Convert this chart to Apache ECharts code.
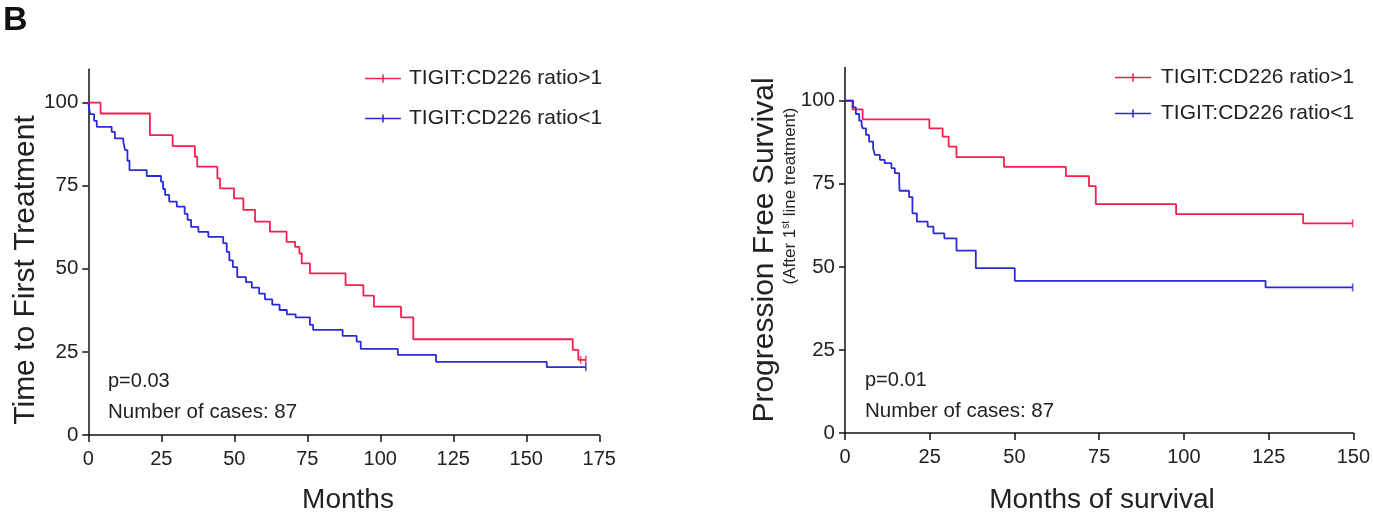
<!DOCTYPE html>
<html>
<head>
<meta charset="utf-8">
<script src="https://cdn.jsdelivr.net/npm/echarts@6/dist/echarts.min.js"></script>
<style>
html,body{margin:0;padding:0;background:#fff;}
#c{width:1373px;height:522px;}
</style>
</head>
<body>
<div id="c"></div>
<script>
// ---- data (months, % event-free) ----
const seriesNames = ['TIGIT:CD226 ratio>1', 'TIGIT:CD226 ratio<1'];

const leftHigh = [[0,100],[4.2,96.7],[21.1,90.2],[28.9,86.9],[36.5,83.7],[37.3,80.7],[44.2,77.2],[45.1,74.2],[49.9,71.2],[53.1,67.7],[57.1,64.2],[62.2,61.2],[67.9,58.1],[70.8,56.6],[72.3,54.6],[73.1,51.6],[75.9,48.6],[88.1,45.1],[94.2,41.9],[97.8,38.6],[107.1,35.4],[111.3,28.8],[165.9,25.6],[167.8,22.6],[170.4,22.6]];

const leftLow = [[0,100],[0.6,96.5],[2,94.5],[2.9,92.7],[8,91.2],[9.1,89.2],[12,88.2],[12.6,85.7],[13.4,82.5],[14.1,79.7],[20,77.9],[24.9,76.2],[25.6,74],[26.3,72.2],[27.7,70.2],[30.3,68.7],[33,66.5],[34,64.7],[35.2,62.6],[37.7,61.1],[41.1,59.6],[46.2,57.7],[47.4,55.1],[48.3,52.5],[49.5,50.5],[51,47.5],[54,46],[56,44.3],[58.5,42.5],[60.5,40.8],[63,39.2],[65.5,37.6],[68,36.3],[71,35.4],[75.9,33.1],[77,31.6],[87.1,29.8],[91.9,28.1],[93.3,25.9],[106,24.1],[119.1,22],[157,20.4],[170.4,20.4]];

const rightHigh = [[0,100],[2.2,97.4],[5.2,94.4],[24.9,91.7],[28.8,89.2],[30.6,86.2],[32.9,83],[46.9,80.1],[65.2,77.3],[72,74.3],[74,68.9],[97.7,65.9],[135.2,63.1],[149.8,63.1]];

const rightLow = [[0,100],[2.4,98],[3.2,96],[4.2,94],[4.9,92.7],[5.2,91.7],[6.2,89.7],[7.1,87.7],[8.3,85.7],[8.8,83.7],[10.3,82.2],[11.7,81.2],[13.7,79.7],[14.7,78.2],[16,75.5],[16.1,72.9],[18.9,71],[19.9,66.1],[21.2,63.6],[24.4,62.1],[26.1,60.1],[29.3,58.6],[32.9,54.9],[38.6,49.6],[50.1,45.8],[124.1,43.8],[149.8,43.8]];

// censored observations (tick marks on the curves)
const leftHighCensor = [[168.6,22.6],[170.4,22.6]];
const leftLowCensor = [[170.4,20.4]];
const rightHighCensor = [[149.8,63.1]];
const rightLowCensor = [[149.8,43.8]];

const yTicks = [0, 25, 50, 75, 100];
const leftXTicks = [0, 25, 50, 75, 100, 125, 150, 175];
const rightXTicks = [0, 25, 50, 75, 100, 125, 150];

const leftNotes = ['p=0.03', 'Number of cases: 87'];
const rightNotes = ['p=0.01', 'Number of cases: 87'];

// ---- styles ----
const RED = '#f4214e';
const BLUE = '#2b2bd8';
const AX = '#111';
const FONT = '"Liberation Sans", Arial, sans-serif';
const LEGEND_ICON = 'path://M0,6.2H36V7.8H0Z M17.2,3H18.8V11H17.2Z';

function xAxis(idx, max, ticks) {
  return {
    gridIndex: idx, type: 'value', min: 0, max: max, interval: 25,
    axisLine: {show: true, onZero: false, lineStyle: {color: AX, width: 1.5}},
    axisTick: {show: true, length: 7, lineStyle: {color: AX, width: 1.5}, customValues: ticks},
    axisLabel: {color: '#222', fontSize: 20, fontFamily: FONT, margin: 14, customValues: ticks},
    splitLine: {show: false}
  };
}
function yAxis(idx) {
  return {
    gridIndex: idx, type: 'value', min: 0, max: 110,
    axisLine: {show: true, onZero: false, lineStyle: {color: AX, width: 1.5}},
    axisTick: {show: true, length: 6, lineStyle: {color: AX, width: 1.5}, customValues: yTicks},
    axisLabel: {color: '#222', fontSize: 20.5, fontFamily: FONT, margin: 10, customValues: yTicks},
    splitLine: {show: false}
  };
}
function line(name, data, color, idx) {
  return {
    name: name, type: 'line', step: 'end', data: data,
    xAxisIndex: idx, yAxisIndex: idx, symbol: 'none',
    lineStyle: {color: color, width: 1.8}, itemStyle: {color: color},
    silent: true, animation: false
  };
}
function censor(data, color, idx) {
  return {
    name: 'censored', type: 'scatter', data: data,
    xAxisIndex: idx, yAxisIndex: idx, symbol: 'rect', symbolSize: [1.6, 8],
    itemStyle: {color: color}, silent: true, animation: false
  };
}
function txt(x, y, s, size) {
  return {
    type: 'text', x: x, y: y, silent: true,
    style: {text: s, fill: '#222', font: size + 'px ' + FONT, textAlign: 'left', textVerticalAlign: 'middle'}
  };
}
function centered(x, y, s, size, rot) {
  return {
    type: 'text', x: x, y: y, silent: true, rotation: rot || 0,
    style: {text: s, fill: '#222', font: size + 'px ' + FONT, textAlign: 'center', textVerticalAlign: 'middle'}
  };
}

const chart = echarts.init(document.getElementById('c'), null, {renderer: 'canvas'});
chart.setOption({
  backgroundColor: '#fff',
  animation: false,
  grid: [
    {left: 88.3, top: 69.3, width: 511, height: 365.7},
    {left: 845, top: 67.5, width: 511.7, height: 365.5}
  ],
  xAxis: [xAxis(0, 175, leftXTicks), xAxis(1, 150, rightXTicks)],
  yAxis: [yAxis(0), yAxis(1)],
  legend: [
    {left: 365, top: 68, padding: 0, orient: 'vertical', icon: LEGEND_ICON, itemWidth: 36, itemHeight: 14, itemGap: 19,
     data: seriesNames, textStyle: {fontSize: 21, fontFamily: FONT, color: '#222', padding: [0,0,0,3]}, selectedMode: false},
    {left: 1115, top: 67, padding: 0, orient: 'vertical', icon: LEGEND_ICON, itemWidth: 36, itemHeight: 14, itemGap: 15,
     data: seriesNames, textStyle: {fontSize: 21, fontFamily: FONT, color: '#222', padding: [0,0,0,5]}, selectedMode: false}
  ],
  series: [
    line(seriesNames[0], leftHigh, RED, 0),
    line(seriesNames[1], leftLow, BLUE, 0),
    line(seriesNames[0], rightHigh, RED, 1),
    line(seriesNames[1], rightLow, BLUE, 1),
    censor(leftHighCensor, RED, 0),
    censor(leftLowCensor, BLUE, 0),
    censor(rightHighCensor, RED, 1),
    censor(rightLowCensor, BLUE, 1)
  ],
  graphic: [
    {type: 'text', x: 3, y: 4, silent: true, style: {text: 'B', fill: '#111', font: 'bold 34px ' + FONT, textAlign: 'left', textVerticalAlign: 'top'}},
    centered(26, 270, 'Time to First Treatment', 30, Math.PI / 2),
    centered(348, 500, 'Months', 28),
    txt(108, 381, leftNotes[0], 20),
    txt(108, 412, leftNotes[1], 20.5),
    centered(765, 250, 'Progression Free Survival', 30, Math.PI / 2),
    {type: 'text', x: 790, y: 196, rotation: Math.PI / 2, silent: true,
     style: {text: '(After 1{sup|st} line treatment)', fill: '#222', font: '17px ' + FONT, textAlign: 'center', textVerticalAlign: 'middle',
             rich: {sup: {fontSize: 10, fontFamily: FONT, fill: '#222', verticalAlign: 'top', padding: [0,0,6,0]}}}},
    centered(1102, 500, 'Months of survival', 28),
    txt(865, 380, rightNotes[0], 20),
    txt(865, 411, rightNotes[1], 20.5)
  ]
});
</script>
</body>
</html>
